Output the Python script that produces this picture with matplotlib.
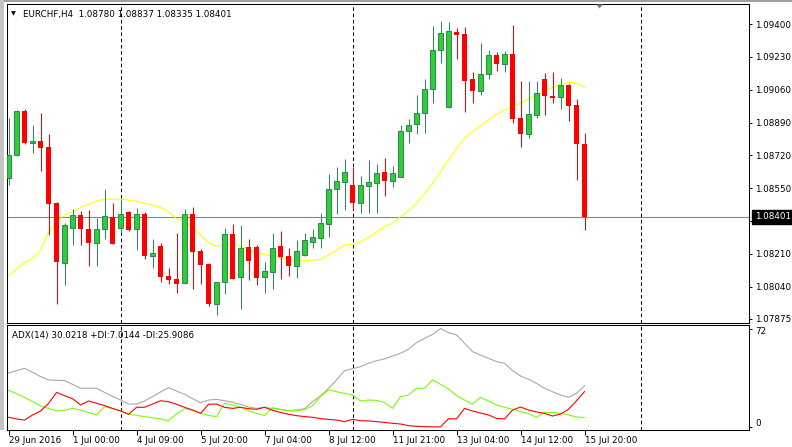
import matplotlib
matplotlib.use('Agg')
import matplotlib.pyplot as plt
from matplotlib.patches import Rectangle, Polygon
from matplotlib.transforms import blended_transform_factory, offset_copy
import numpy as np

W, H = 792, 447

# ── EURCHF H4 candles ──────────────────────────────────────────────────────
opens = [
    1.08601, 1.08720, 1.08949, 1.08785, 1.08794, 1.08763, 1.08474, 1.08164, 1.08342, 1.08409,
    1.08338, 1.08267, 1.08337, 1.08400, 1.08342, 1.08426, 1.08337, 1.08416, 1.08200, 1.08250,
    1.08098, 1.08078, 1.08057, 1.08419, 1.08224, 1.08160, 1.07948, 1.08062, 1.08311, 1.08088,
    1.08245, 1.08245, 1.08088, 1.08117, 1.08250, 1.08198, 1.08148, 1.08203, 1.08272, 1.08293,
    1.08366, 1.08544, 1.08583, 1.08566, 1.08474, 1.08562, 1.08578, 1.08633, 1.08588, 1.08609,
    1.08844, 1.08880, 1.08937, 1.09062, 1.09264, 1.08969, 1.09359, 1.09348, 1.09115, 1.09054,
    1.09139, 1.09241, 1.09194, 1.09245, 1.08913, 1.08832, 1.08930, 1.09115, 1.09027, 1.09023,
    1.09084, 1.08980, 1.08780,
]
highs = [
    1.08912, 1.08955, 1.08958, 1.08877, 1.08941, 1.08832, 1.08476, 1.08371, 1.08443, 1.08431,
    1.08437, 1.08394, 1.08545, 1.08471, 1.08494, 1.08431, 1.08450, 1.08425, 1.08285, 1.08264,
    1.08135, 1.08316, 1.08442, 1.08452, 1.08235, 1.08162, 1.08062, 1.08345, 1.08364, 1.08359,
    1.08286, 1.08255, 1.08166, 1.08316, 1.08328, 1.08238, 1.08281, 1.08316, 1.08337, 1.08423,
    1.08623, 1.08659, 1.08699, 1.08661, 1.08613, 1.08696, 1.08675, 1.08707, 1.08666, 1.08877,
    1.08906, 1.09032, 1.09115, 1.09391, 1.09416, 1.09412, 1.09381, 1.09386, 1.09153, 1.09302,
    1.09265, 1.09255, 1.09262, 1.09395, 1.09105, 1.09105, 1.09105, 1.09144, 1.09153, 1.09120,
    1.09089, 1.09012, 1.08837,
]
lows = [
    1.08566, 1.08718, 1.08778, 1.08730, 1.08639, 1.08307, 1.07951, 1.08048, 1.08255, 1.08255,
    1.08146, 1.08146, 1.08286, 1.08262, 1.08324, 1.08331, 1.08231, 1.08183, 1.08135, 1.08065,
    1.08052, 1.08008, 1.08055, 1.08027, 1.08053, 1.07941, 1.07896, 1.08003, 1.08081, 1.07924,
    1.08076, 1.08048, 1.08008, 1.08029, 1.08081, 1.08095, 1.08086, 1.08201, 1.08241, 1.08241,
    1.08298, 1.08417, 1.08437, 1.08437, 1.08423, 1.08423, 1.08423, 1.08509, 1.08557, 1.08606,
    1.08785, 1.08829, 1.08837, 1.08992, 1.09200, 1.08967, 1.09219, 1.08946, 1.08992, 1.09035,
    1.09117, 1.09158, 1.09153, 1.08889, 1.08764, 1.08811, 1.08914, 1.08929, 1.08992, 1.08958,
    1.08899, 1.08592, 1.08335,
]
closes = [
    1.08721, 1.08949, 1.08785, 1.08794, 1.08759, 1.08469, 1.08169, 1.08362, 1.08409, 1.08340,
    1.08267, 1.08338, 1.08404, 1.08262, 1.08419, 1.08334, 1.08414, 1.08200, 1.08214, 1.08091,
    1.08076, 1.08055, 1.08419, 1.08219, 1.08153, 1.07951, 1.08062, 1.08311, 1.08081, 1.08243,
    1.08174, 1.08086, 1.08121, 1.08243, 1.08193, 1.08146, 1.08224, 1.08281, 1.08297, 1.08368,
    1.08544, 1.08585, 1.08632, 1.08474, 1.08564, 1.08580, 1.08628, 1.08588, 1.08628, 1.08846,
    1.08875, 1.08937, 1.09062, 1.09264, 1.09352, 1.09362, 1.09345, 1.09106, 1.09054, 1.09141,
    1.09239, 1.09194, 1.09245, 1.08909, 1.08832, 1.08932, 1.09041, 1.09029, 1.09018, 1.09084,
    1.08975, 1.08780, 1.08401,
]

# yellow moving average, one value per bar
ma = [
    1.08097, 1.08131, 1.08166, 1.08186, 1.08229, 1.08319, 1.08376, 1.08411, 1.08428, 1.08450,
    1.08466, 1.08483, 1.08494, 1.08492, 1.08494, 1.08488, 1.08483, 1.08471, 1.08462, 1.08450,
    1.08428, 1.08393, 1.08380, 1.08347, 1.08307, 1.08267, 1.08250, 1.08255, 1.08264, 1.08250,
    1.08233, 1.08215, 1.08207, 1.08198, 1.08192, 1.08183, 1.08176, 1.08174, 1.08178, 1.08181,
    1.08203, 1.08229, 1.08255, 1.08260, 1.08272, 1.08295, 1.08323, 1.08350, 1.08368, 1.08402,
    1.08433, 1.08471, 1.08523, 1.08575, 1.08635, 1.08696, 1.08756, 1.08808, 1.08846, 1.08872,
    1.08903, 1.08932, 1.08955, 1.08973, 1.08989, 1.09012, 1.09032, 1.09055, 1.09072, 1.09088,
    1.09098, 1.09093, 1.09072,
]

# ADX(14) sub-window
adx = [
    39.5, 41.2, 42.9, 40.0, 36.8, 34.4, 34.1, 33.9, 31.2, 28.3,
    28.3, 28.3, 25.3, 22.4, 19.7, 16.8, 16.8, 19.0, 22.2, 25.6,
    28.8, 26.3, 23.9, 20.7, 17.8, 19.7, 20.2, 19.2, 18.0, 16.6,
    14.6, 13.6, 14.4, 13.4, 12.7, 11.9, 12.4, 13.4, 18.5, 22.7,
    28.3, 34.4, 41.2, 42.6, 44.1, 46.5, 48.5, 49.7, 51.9, 53.9,
    56.8, 61.7, 64.8, 67.7, 72.0, 69.0, 67.3, 61.2, 55.1, 52.6,
    50.2, 47.8, 46.6, 41.2, 37.3, 34.9, 31.9, 28.3, 25.8, 23.4,
    21.7, 24.6, 30.0218,
]
plus_di = [
    26.8, 24.4, 21.7, 18.5, 15.3, 13.6, 11.7, 12.2, 13.6, 12.4,
    10.5, 8.8, 14.9, 13.4, 11.9, 9.5, 8.5, 7.6, 6.8, 5.9,
    4.6, 9.5, 13.4, 12.4, 10.0, 8.5, 7.6, 17.3, 16.1, 14.4,
    11.9, 10.0, 8.3, 14.1, 12.9, 11.9, 11.9, 12.7, 15.6, 22.2,
    27.1, 25.8, 24.6, 23.4, 19.0, 19.7, 19.5, 17.8, 13.6, 22.2,
    23.4, 28.3, 28.3, 34.4, 31.2, 27.8, 22.9, 19.7, 16.6, 21.7,
    19.0, 16.1, 14.4, 12.9, 11.2, 9.8, 7.1, 10.7, 10.7, 10.0,
    8.8, 7.3, 7.0144,
]
minus_di = [
    7.1, 5.9, 5.1, 8.8, 11.7, 17.3, 25.3, 22.9, 20.7, 16.1,
    19.0, 17.3, 15.6, 13.6, 11.7, 9.3, 14.4, 14.4, 16.8, 19.2,
    18.5, 16.6, 14.4, 12.4, 10.0, 16.6, 16.8, 14.4, 13.6, 14.4,
    13.4, 12.9, 14.4, 12.2, 10.7, 9.3, 8.3, 7.6, 7.1, 6.1,
    5.6, 5.1, 3.9, 5.6, 4.6, 4.4, 3.9, 3.4, 2.7, 2.2,
    1.0, 0.5, 0.3, 0.1, 0.1, 6.1, 5.9, 13.6, 11.7, 10.2,
    8.8, 6.3, 5.9, 12.4, 14.6, 12.4, 11.0, 10.0, 8.0, 9.5,
    12.9, 19.2, 25.9086,
]

time_labels = ['29 Jun 2016', '1 Jul 00:00', '4 Jul 09:00', '5 Jul 20:00', '7 Jul 04:00',
               '8 Jul 12:00', '11 Jul 21:00', '13 Jul 04:00', '14 Jul 12:00', '15 Jul 20:00']
time_label_bars = [0, 8, 16, 24, 32, 40, 48, 56, 64, 72]
separator_bars = [14, 43, 79]
price_ticks = [1.09400, 1.09230, 1.09060, 1.08890, 1.08720, 1.08550, 1.08380,
               1.08210, 1.08040, 1.07875]

# ── style ──────────────────────────────────────────────────────────────────
plt.rcParams['font.family'] = ['DejaVu Sans']
plt.rcParams['lines.scale_dashes'] = False
FS = 6.3
GREEN_FILL = '#32cd32'
GREEN_EDGE = '#2e8b57'
RED = '#ff0000'
SEP_STYLE = (0, (2.6, 1.9))

fig = plt.figure(figsize=(W / 100, H / 100), dpi=100, facecolor='white')


def px_box(x0, y0, x1, y1):
    return [x0 / W, 1 - y1 / H, (x1 - x0) / W, (y1 - y0) / H]


ax = fig.add_axes(px_box(7.3, 4, 749.3, 322.7))
ax2 = fig.add_axes(px_box(7.3, 325.3, 749.3, 430), sharex=ax)

for a in (ax, ax2):
    for s in a.spines.values():
        s.set_linewidth(0.75)
        s.set_color('black')
    for b in separator_bars:
        a.axvline(b, color='black', lw=0.75, linestyle=SEP_STYLE, zorder=1)

# ── main price window ──────────────────────────────────────────────────────
o = np.array(opens)
c = np.array(closes)
hi = np.array(highs)
lo = np.array(lows)
idx = np.arange(len(c))
up = c >= o
body_lo = np.minimum(o, c)
body_h = np.maximum(np.abs(c - o), 0.00002)

ax.axhline(closes[-1], color='#778899', lw=0.8, zorder=1)
ax.plot(idx, ma, color='#ffff00', lw=0.8, zorder=2)

ax.vlines(idx[up], lo[up], hi[up], color=GREEN_EDGE, lw=0.75, zorder=3)
ax.vlines(idx[~up], lo[~up], hi[~up], color=RED, lw=0.75, zorder=3)
ax.bar(idx[up], body_h[up], bottom=body_lo[up], width=0.52, color=GREEN_FILL,
       edgecolor=GREEN_EDGE, linewidth=0.75, zorder=4)
ax.bar(idx[~up], body_h[~up], bottom=body_lo[~up], width=0.62, color=RED,
       linewidth=0, zorder=4)

ax.set_xlim(-0.16, 92.6)
ax.set_ylim(1.078537, 1.095036)
ax.yaxis.tick_right()
ax.set_yticks(price_ticks)
# the 1.08380 label sits under the current-price box, so it stays blank
ax.set_yticklabels(['' if abs(v - closes[-1]) < 0.0004 else '%.5f' % v
                    for v in price_ticks])
ax.tick_params(axis='y', direction='out', length=2.2, width=0.7, pad=1.8,
               labelsize=FS, colors='black')
ax.tick_params(axis='x', bottom=False, labelbottom=False)

# current price box on the right scale
tr = blended_transform_factory(ax.transAxes, ax.transData)
ax.text(1.0, closes[-1], '%.5f' % closes[-1],
        transform=offset_copy(tr, fig=fig, x=5.6, y=0, units='dots'),
        ha='left', va='center', fontsize=FS, color='white', clip_on=False,
        zorder=10, bbox=dict(boxstyle='square,pad=0.3', fc='black', ec='black'))

# ── ADX window ─────────────────────────────────────────────────────────────
ax2.plot(idx, adx, color='#a9a9a9', lw=0.8, zorder=2)
ax2.plot(idx, plus_di, color='#7cfc00', lw=0.8, zorder=2)
ax2.plot(idx, minus_di, color=RED, lw=0.8, zorder=3)
ax2.set_ylim(-2.19, 74.34)
ax2.yaxis.tick_right()
ax2.set_yticks([72, 0])
ax2.set_yticklabels([])
ax2.tick_params(axis='y', direction='out', length=2.2, width=0.7)
tr2 = blended_transform_factory(ax2.transAxes, ax2.transData)
ax2.text(1.0, 72, '72', transform=offset_copy(tr2, fig=fig, x=5.6, y=-3.3, units='dots'),
         ha='left', va='center', fontsize=FS, clip_on=False)
ax2.text(1.0, 0, '0', transform=offset_copy(tr2, fig=fig, x=5.6, y=3.6, units='dots'),
         ha='left', va='center', fontsize=FS, clip_on=False)

ax2.set_xticks(time_label_bars)
ax2.set_xticklabels(time_labels)
ax2.tick_params(axis='x', direction='out', length=3.6, width=0.7, pad=0.6,
                labelsize=FS)
for lbl in ax2.get_xticklabels():
    lbl.set_horizontalalignment('left')

ax2.text(0.007, 0.90, 'ADX(14) %.4f +DI:%.4f -DI:%.4f' % (adx[-1], plus_di[-1], minus_di[-1]),
         transform=ax2.transAxes, ha='left', va='center', fontsize=FS)

# ── header & window chrome ─────────────────────────────────────────────────
fig.text(23 / W, 1 - 14 / H,
         'EURCHF,H4  %.5f %.5f %.5f %.5f' % (opens[-1], highs[-1], lows[-1], closes[-1]),
         ha='left', va='center', fontsize=FS)
fig.text(11 / W, 1 - 14 / H, '\u25bc', ha='left', va='center', fontsize=4.5)

fig.add_artist(Rectangle((0, 1 - 1.6 / H), 1, 1.6 / H, transform=fig.transFigure,
                         color='#a0a0a0', lw=0))
fig.add_artist(Rectangle((0, 1 - 430 / H), 3.5 / W, 430 / H, transform=fig.transFigure,
                         color='#c4c4c4', lw=0))
fig.add_artist(Polygon([[596 / W, 1 - 4.5 / H], [603 / W, 1 - 4.5 / H], [599.5 / W, 1 - 8.5 / H]],
                       closed=True, transform=fig.transFigure, color='#778899', lw=0))

fig.savefig('out.png', dpi=100, facecolor='white')
